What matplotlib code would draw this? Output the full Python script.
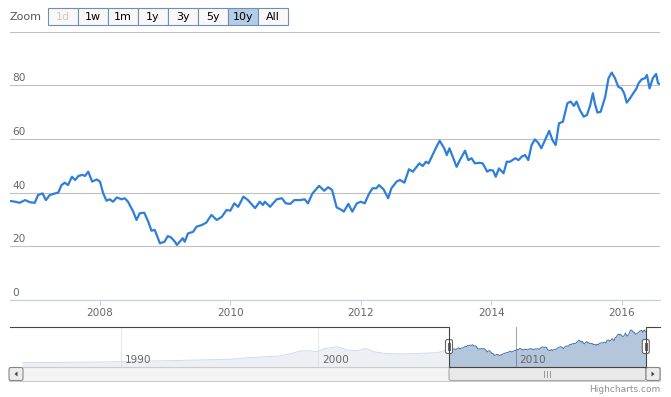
import matplotlib.pyplot as plt
import matplotlib.patches as mpatches

# main series (decimal years, value)
years = [2006.62, 2006.70, 2006.77, 2006.85, 2006.93, 2007.00, 2007.05, 2007.12, 2007.17, 2007.23,
         2007.31, 2007.36, 2007.41, 2007.46, 2007.51, 2007.57, 2007.62, 2007.67, 2007.73, 2007.77,
         2007.82, 2007.88, 2007.95, 2008.00, 2008.05, 2008.10, 2008.15, 2008.20, 2008.26, 2008.33,
         2008.38, 2008.43, 2008.51, 2008.56, 2008.61, 2008.68, 2008.74, 2008.79, 2008.84, 2008.89,
         2008.92, 2008.99, 2009.04, 2009.09, 2009.15, 2009.18, 2009.27, 2009.30, 2009.35, 2009.43,
         2009.48, 2009.56, 2009.63, 2009.71, 2009.79, 2009.87, 2009.94, 2010.00, 2010.06, 2010.12,
         2010.20, 2010.27, 2010.38, 2010.45, 2010.50, 2010.53, 2010.61, 2010.71, 2010.79, 2010.85,
         2010.92, 2010.98, 2011.07, 2011.14, 2011.19, 2011.26, 2011.36, 2011.44, 2011.50, 2011.56,
         2011.63, 2011.71, 2011.74, 2011.81, 2011.87, 2011.94, 2012.00, 2012.06, 2012.13, 2012.18,
         2012.24, 2012.28, 2012.35, 2012.42, 2012.47, 2012.55, 2012.60, 2012.67, 2012.74, 2012.80,
         2012.85, 2012.90, 2012.95, 2013.00, 2013.04, 2013.09, 2013.15, 2013.21, 2013.28, 2013.32,
         2013.36, 2013.42, 2013.47, 2013.52, 2013.60, 2013.65, 2013.70, 2013.75, 2013.82, 2013.87,
         2013.94, 2013.98, 2014.03, 2014.07, 2014.12, 2014.19, 2014.24, 2014.29, 2014.37, 2014.42,
         2014.47, 2014.52, 2014.57, 2014.62, 2014.67, 2014.72, 2014.77, 2014.83, 2014.89, 2014.94,
         2014.99, 2015.04, 2015.10, 2015.17, 2015.22, 2015.27, 2015.31, 2015.36, 2015.42, 2015.47,
         2015.52, 2015.56, 2015.59, 2015.63, 2015.68, 2015.75, 2015.80, 2015.85, 2015.90, 2015.95,
         2016.00, 2016.04, 2016.08, 2016.13, 2016.18, 2016.23, 2016.26, 2016.31, 2016.36, 2016.39,
         2016.43, 2016.48, 2016.53, 2016.56, 2016.59]
values = [36.9, 36.6, 36.2, 37.2, 36.4, 36.2, 39.1, 39.7, 37.2, 39.1,
          39.7, 40.0, 42.8, 43.7, 42.8, 45.9, 44.7, 46.2, 46.6, 46.2,
          47.8, 44.1, 44.9, 44.1, 39.7, 37.0, 37.5, 36.6, 38.2, 37.5,
          37.9, 36.6, 32.9, 29.8, 32.3, 32.5, 29.2, 25.8, 26.1, 23.0,
          21.1, 21.7, 23.8, 23.3, 21.7, 20.5, 23.0, 21.7, 24.8, 25.4,
          27.3, 27.9, 28.8, 31.7, 29.8, 31.0, 33.5, 33.3, 36.0, 34.7,
          38.5, 37.2, 34.2, 36.6, 35.4, 36.6, 34.7, 37.5, 37.9, 36.0,
          35.8, 37.2, 37.2, 37.5, 36.0, 39.7, 42.5, 40.7, 42.0, 41.0,
          34.5, 33.5, 32.9, 35.8, 32.9, 36.0, 36.6, 36.0, 39.7, 41.6,
          41.6, 42.8, 41.2, 37.9, 41.6, 44.1, 44.7, 43.7, 48.7, 47.8,
          49.4, 50.9, 49.9, 51.5, 50.9, 53.4, 56.5, 59.3, 56.5, 54.0,
          56.5, 52.8, 49.6, 52.1, 55.6, 52.1, 52.8, 50.9, 51.1, 50.9,
          47.8, 48.4, 48.2, 45.9, 49.0, 47.2, 51.5, 51.5, 52.8, 52.1,
          53.4, 54.0, 52.1, 57.7, 59.8, 58.6, 56.5, 59.8, 63.0, 59.6,
          57.7, 65.8, 66.4, 73.3, 73.9, 72.3, 73.9, 70.8, 68.3, 68.9,
          72.6, 77.0, 73.3, 69.8, 70.1, 75.7, 82.6, 84.7, 82.6, 79.4,
          78.8, 77.0, 73.5, 75.1, 77.0, 78.8, 80.7, 82.2, 82.6, 83.8,
          78.8, 82.6, 84.2, 80.7, 80.4]

# older history only visible in the navigator
early_years = [1985.01, 1986.90, 1990.00, 1992.49, 1995.53, 1996.70, 1998.07, 1998.66, 1999.09,
               1999.49, 1999.93, 2000.36, 2000.95, 2001.46, 2001.96, 2002.39, 2002.81, 2003.32,
               2004.16, 2005.18, 2006.03, 2006.36]
early_values = [2.8, 3.5, 5.2, 8.0, 11.2, 16.2, 19.5, 26.2, 32.0, 32.7, 30.2, 38.7, 42.7, 34.5,
                32.7, 38.7, 30.2, 26.2, 24.5, 26.2, 27.7, 32.7]

y_ticks = [0, 20, 40, 60, 80, 100]
x_ticks = [2008, 2010, 2012, 2014, 2016]
nav_ticks = [1990, 2000, 2010]
buttons = ['1d', '1w', '1m', '1y', '3y', '5y', '10y', 'All']

plt.rcParams['font.family'] = ['DejaVu Sans']
W, H = 671, 397
fig = plt.figure(figsize=(W / 100, H / 100), dpi=100)


def box(l, t, r, b):
    return [l / W, 1 - b / H, (r - l) / W, (b - t) / H]


# main chart
ax = fig.add_axes(box(10, 31.5, 660, 300))
ax.plot(years, values, color='#2f7ed8', lw=1.6, solid_joinstyle='round', zorder=3)
ax.set_xlim(years[0], years[-1])
ax.set_ylim(0, 100)
ax.set_yticks(y_ticks)
ax.set_xticks(x_ticks)
ax.yaxis.grid(True, color='#c0c0c0', lw=0.8)
ax.tick_params(axis='y', length=0, labelleft=False)
ax.tick_params(axis='x', length=3.6, width=0.8, color='#c0d0e0', labelcolor='#666666',
               labelsize=7.6, pad=2)
for s in ['top', 'left', 'right']:
    ax.spines[s].set_visible(False)
ax.spines['bottom'].set_color('#c0d0e0')
ax.spines['bottom'].set_linewidth(0.8)
for v in y_ticks[:-1]:
    ax.annotate(str(v), xy=(0, v), xycoords=('axes fraction', 'data'), xytext=(1.5, 1.5),
                textcoords='offset points', ha='left', va='bottom', fontsize=7.6, color='#666666')

# navigator
nav_x = early_years + years
nav_y = early_values + values
nav = fig.add_axes(box(10, 327, 660, 367))
nav.set_xlim(1984.38, 2017.31)
nav.set_ylim(-8, 92)
nav.fill_between(nav_x, nav_y, -8, color='#4572a7', alpha=0.4, lw=0, zorder=2)
nav.plot(nav_x, nav_y, color='#4572a7', lw=0.7, zorder=3)
nav.set_xticks(nav_ticks)
nav.xaxis.grid(True, color='#a8a8a8', lw=0.8, zorder=1)
nav.set_axisbelow(True)
nav.tick_params(length=0, labelbottom=False, labelleft=False)
for s in nav.spines.values():
    s.set_visible(False)
nav.axvspan(1984.38, years[0], color='white', alpha=0.75, lw=0, zorder=4)
for t in nav_ticks:
    nav.annotate(str(t), xy=(t, 0), xycoords=('data', 'axes fraction'), xytext=(2.5, 1.5),
                 textcoords='offset points', ha='left', va='bottom', fontsize=7.6,
                 color='#666666', zorder=5)

# pixel positions of the selected range
fig.canvas.draw()
x0 = nav.transData.transform((years[0], 0))[0]
x1 = nav.transData.transform((years[-1], 0))[0]

# overlay in pixel coordinates for the widgets
deco = fig.add_axes([0, 0, 1, 1], zorder=10)
deco.set_xlim(0, W)
deco.set_ylim(H, 0)
deco.axis('off')
deco.patch.set_alpha(0)

# outline of navigator
deco.plot([10, x0, x0, x1, x1, 660], [327, 327, 367, 367, 327, 327], color='#444444', lw=0.8)

# scrollbar
deco.add_patch(mpatches.Rectangle((9, 367), 651, 14, facecolor='#f4f4f4', edgecolor='#cccccc', lw=0.8))
deco.add_patch(mpatches.FancyBboxPatch((x0, 367.5), x1 - x0, 13, boxstyle='round,pad=0,rounding_size=2',
                                       facecolor='#e9e9e9', edgecolor='#aaaaaa', lw=0.8))
xm = (x0 + x1) / 2
for dx in (-3, 0, 3):
    deco.plot([xm + dx, xm + dx], [371, 377], color='#999999', lw=0.7)
for bx, d in ((9, -1), (646, 1)):
    deco.add_patch(mpatches.FancyBboxPatch((bx, 367.5), 14, 13, boxstyle='round,pad=0,rounding_size=2',
                                           facecolor='#ececec', edgecolor='#888888', lw=0.8))
    cx = bx + 7
    deco.add_patch(mpatches.Polygon([(cx + 1.5 * d, 374), (cx - 1.5 * d, 371.5), (cx - 1.5 * d, 376.5)],
                                    closed=True, color='#444444', lw=0))

# handles
for hx in (x0, x1):
    deco.add_patch(mpatches.FancyBboxPatch((hx - 3.5, 339.5), 7, 14, boxstyle='round,pad=0,rounding_size=2',
                                           facecolor='white', edgecolor='#666666', lw=0.8))
    for dx in (-1.2, 1.2):
        deco.plot([hx + dx, hx + dx], [343, 350], color='#666666', lw=0.7)

# range selector
deco.text(10, 16.5, 'Zoom', ha='left', va='center', fontsize=8, color='#555555')
bw = 30
for i, lab in enumerate(buttons):
    bx = 48 + i * bw
    sel = lab == '10y'
    deco.add_patch(mpatches.Rectangle((bx, 8), bw, 17, facecolor='#b3cce8' if sel else '#f8f8f8',
                                      edgecolor='#6f8fb0', lw=0.8))
    deco.text(bx + bw / 2, 16.5, lab, ha='center', va='center', fontsize=8,
              color='#cccccc' if lab == '1d' else '#000000')

deco.text(660, 390, 'Highcharts.com', ha='right', va='center', fontsize=6.5, color='#909090')

fig.savefig('out.png', dpi=100)
